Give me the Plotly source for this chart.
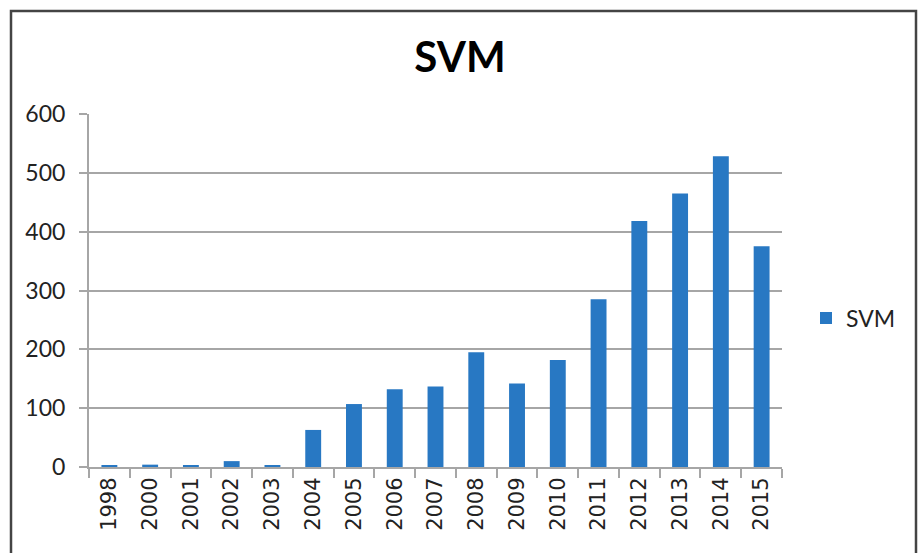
import plotly.graph_objects as go

years = ["1998", "2000", "2001", "2002", "2003", "2004", "2005", "2006", "2007",
         "2008", "2009", "2010", "2011", "2012", "2013", "2014", "2015"]
svm_counts = [2, 4, 2, 10, 2, 63, 107, 132, 137, 195, 142, 182, 285, 418, 465, 528, 375]
y_ticks = [0, 100, 200, 300, 400, 500, 600]

fig = go.Figure()
fig.add_trace(go.Bar(x=years, y=svm_counts, name="SVM", marker_color="#2878C3",
                     marker_line_width=0, showlegend=True))

W, H = 920, 553
L, R, T, B = 89, 138, 114, 86
pw, ph = W - L - R, H - T - B

def px_x(x):
    return (x - L) / pw

def px_y(y):
    return (H - B - y) / ph

fig.update_layout(
    width=W, height=H,
    margin=dict(l=L, r=R, t=T, b=B),
    paper_bgcolor="white", plot_bgcolor="white",
    bargap=0.61,
    title=dict(text="<b>SVM</b>", x=0.5, xanchor="center", y=1 - 57 / H, yanchor="middle",
               font=dict(family="Lato", size=42, color="black")),
    legend=dict(x=px_x(806), y=px_y(318), xanchor="left", yanchor="middle",
                font=dict(family="Lato", size=23, color="#222"),
                itemwidth=30, bgcolor="rgba(0,0,0,0)"),
    xaxis=dict(type="category", tickangle=-90, showline=True, linecolor="#A6A6A6", linewidth=2,
               ticks="outside", tickson="boundaries", ticklen=9, tickcolor="#A6A6A6", tickwidth=2,
               tickfont=dict(family="DejaVu Sans", size=21, color="#222"), showgrid=False),
    yaxis=dict(range=[0, 600], tickvals=y_ticks, showline=True, linecolor="#A6A6A6", linewidth=2,
               ticks="outside", ticklen=8, tickcolor="#A6A6A6", tickwidth=2,
               gridcolor="#A6A6A6", gridwidth=2, zeroline=False, ticklabelstandoff=9,
               tickfont=dict(family="Lato", size=23, color="#222")),
    shapes=[dict(type="rect", xref="paper", yref="paper",
                 x0=px_x(11), x1=px_x(916), y0=px_y(570), y1=px_y(11),
                 line=dict(color="#444", width=2.5), fillcolor="rgba(0,0,0,0)", layer="above")],
)

fig.write_html("out.html", config={"displayModeBar": False},
               post_script="document.body.style.margin='0';document.body.style.overflow='hidden';")
